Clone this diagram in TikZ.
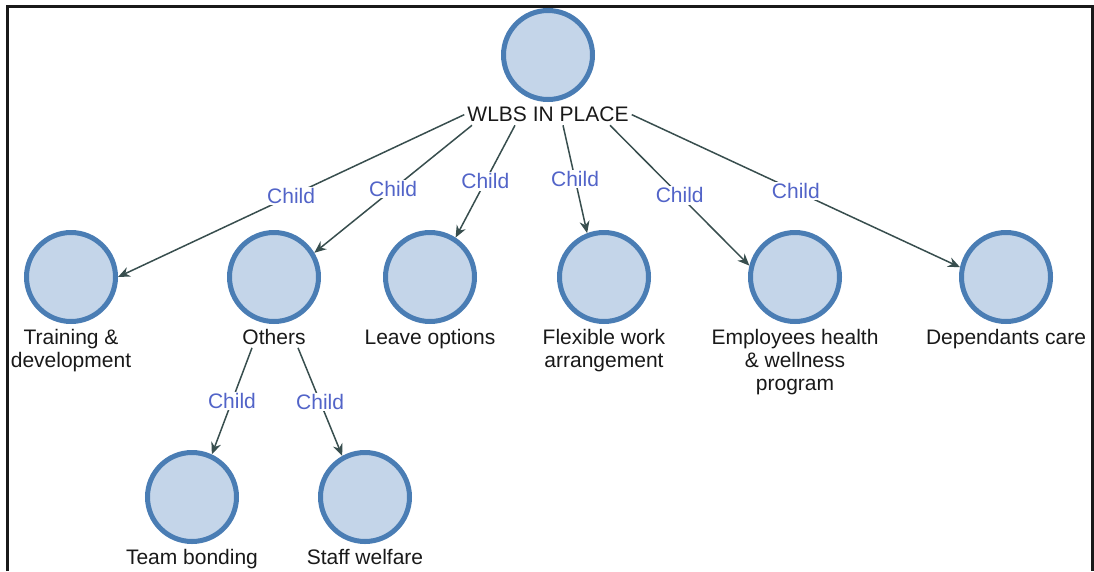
\documentclass[tikz,border=0pt]{standalone}
\usepackage{fontspec}
\setmainfont{Liberation Sans}
\usetikzlibrary{arrows.meta,positioning}

\definecolor{nodefill}{RGB}{196,213,233}
\definecolor{nodeline}{RGB}{74,125,180}
\definecolor{edgeline}{RGB}{56,78,78}
\definecolor{childblue}{RGB}{82,100,200}
\definecolor{lbltext}{RGB}{25,25,25}

\tikzset{
	wnode/.style={circle,draw=nodeline,fill=nodefill,line width=5pt,
		minimum size=89pt,inner sep=0pt},
	wlabel/.style={align=center,inner sep=3pt,text=lbltext,
		font=\fontsize{21}{23}\selectfont},
	childedge/.style={->,>={Stealth[length=12pt,width=10pt]},
		draw=edgeline,line width=1.5pt},
	childtxt/.style={midway,fill=white,inner sep=1.5pt,text=childblue,
		font=\fontsize{21}{23}\selectfont}
}

\begin{document}
\begin{tikzpicture}[x=1pt,y=-1pt]
	\path[use as bounding box] (0,0) rectangle (1094,571);
	\draw[line width=3pt,black!90] (7,571) -- (7,6) -- (1092,6) -- (1092,571);

	% root
	\node[wnode] (root) at (548,55) {};
	\node[wlabel,below=2pt of root] (rootlbl) {WLBS IN PLACE};

	% first row
	\node[wnode] (train) at (71,277) {};
	\node[wnode] (others) at (274,277) {};
	\node[wnode] (leave) at (430,277) {};
	\node[wnode] (flex) at (604,277) {};
	\node[wnode] (health) at (795,277) {};
	\node[wnode] (depcare) at (1006,277) {};
	\node[wlabel,below=2pt of train] (trainlbl) {Training \&\\development};
	\node[wlabel,below=2pt of others] (otherslbl) {Others};
	\node[wlabel,below=2pt of leave] (leavelbl) {Leave options};
	\node[wlabel,below=2pt of flex] (flexlbl) {Flexible work\\arrangement};
	\node[wlabel,below=2pt of health] (healthlbl) {Employees health\\\& wellness\\program};
	\node[wlabel,below=2pt of depcare] (depcarelbl) {Dependants care};

	% second row
	\node[wnode] (teambond) at (192,497) {};
	\node[wnode] (welfare) at (365,497) {};
	\node[wlabel,below=2pt of teambond] (teambondlbl) {Team bonding};
	\node[wlabel,below=2pt of welfare] (welfarelbl) {Staff welfare};

	% edges
	\draw[childedge] (rootlbl.west) -- node[childtxt]{Child} (train.east);
	\draw[childedge] ([xshift=-76pt]rootlbl.south) -- node[childtxt]{Child} (others.31);
	\draw[childedge] ([xshift=-33pt]rootlbl.south) -- node[childtxt]{Child} (leave.57);
	\draw[childedge] ([xshift=15pt]rootlbl.south) -- node[childtxt]{Child} (flex.111);
	\draw[childedge] ([xshift=62pt]rootlbl.south) -- node[childtxt]{Child} (health.166);
	\draw[childedge] (rootlbl.east) -- node[childtxt]{Child} (depcare.168);
	\draw[childedge] ([xshift=-22pt]otherslbl.south) -- node[childtxt]{Child} (teambond.65);
	\draw[childedge] ([xshift=24pt]otherslbl.south) -- node[childtxt]{Child} (welfare.119);
\end{tikzpicture}
\end{document}
